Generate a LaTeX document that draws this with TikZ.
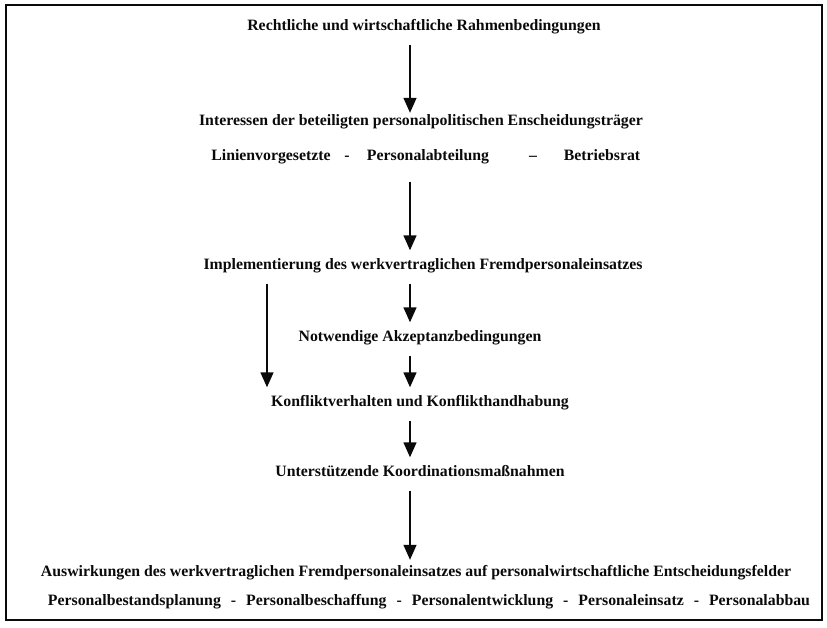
\documentclass[tikz,border=0pt]{standalone}
\usepackage{fontspec}
\setmainfont{Liberation Serif}
\usepackage{tikz}
\usetikzlibrary{arrows.meta, positioning, calc}
\definecolor{ink}{RGB}{10,10,10}
\newcommand{\sepdash}{\hspace{10pt}-\hspace{10pt}}
\tikzset{
  stage/.style={font=\fontsize{15.8}{18}\selectfont\bfseries, inner sep=0pt,
    text height=11pt, text depth=4pt, color=ink},
  arrow/.style={-{Triangle[width=13pt,length=15pt]}, line width=1.4pt,
    color=ink, shorten <=10pt, shorten >=8pt},
  frame/.style={draw=ink, line width=2.2pt}
}

\begin{document}
\begin{tikzpicture}[x=1pt,y=-1pt]
  \useasboundingbox (0,0) rectangle (827,627);
  \draw[frame] (6,5) rectangle (822,620);
  \coordinate (axis) at (410,0);
  \coordinate (side) at (267,0);
  % stages
  \node[stage] (rahmen) at (424,27) {Rechtliche und wirtschaftliche Rahmenbedingungen};
  \node[stage] (interessen) at (421,122) {Interessen der beteiligten personalpolitischen Enscheidungsträger};
  \node[stage] (linie) at (271,157) {Linienvorgesetzte};
  \node[stage] (dasha) at (347,157) {-};
  \node[stage] (abteilung) at (428,157) {Personalabteilung};
  \node[stage] (dashb) at (533,157) {–};
  \node[stage] (rat) at (602,157) {Betriebsrat};
  \node[stage] (impl) at (423,266) {Implementierung des werkvertraglichen Fremdpersonaleinsatzes};
  \node[stage] (akzeptanz) at (420,338) {Notwendige Akzeptanzbedingungen};
  \node[stage] (konflikt) at (420,403) {Konfliktverhalten und Konflikthandhabung};
  \node[stage] (koord) at (420,473) {Unterstützende Koordinationsmaßnahmen};
  \node[stage] (auswirk) at (416,573) {Auswirkungen des werkvertraglichen Fremdpersonaleinsatzes auf personalwirtschaftliche Entscheidungsfelder};
  \node[stage] (felder) at (429,602) {Personalbestandsplanung\sepdash Personalbeschaffung\sepdash Personalentwicklung\sepdash Personaleinsatz\sepdash Personalabbau};
  % arrows
  \draw[arrow, shorten >=1.5pt] (rahmen.south -| axis) -- (interessen.north -| axis);
  \draw[arrow, shorten <=17pt] (abteilung.south -| axis) -- (impl.north -| axis);
  \draw[arrow] (impl.south -| side) -- (konflikt.north -| side);
  \draw[arrow] (impl.south -| axis) -- (akzeptanz.north -| axis);
  \draw[arrow] (akzeptanz.south -| axis) -- (konflikt.north -| axis);
  \draw[arrow] (konflikt.south -| axis) -- (koord.north -| axis);
  \draw[arrow, shorten >=5.5pt] (koord.south -| axis) -- (auswirk.north -| axis);
\end{tikzpicture}
\end{document}
